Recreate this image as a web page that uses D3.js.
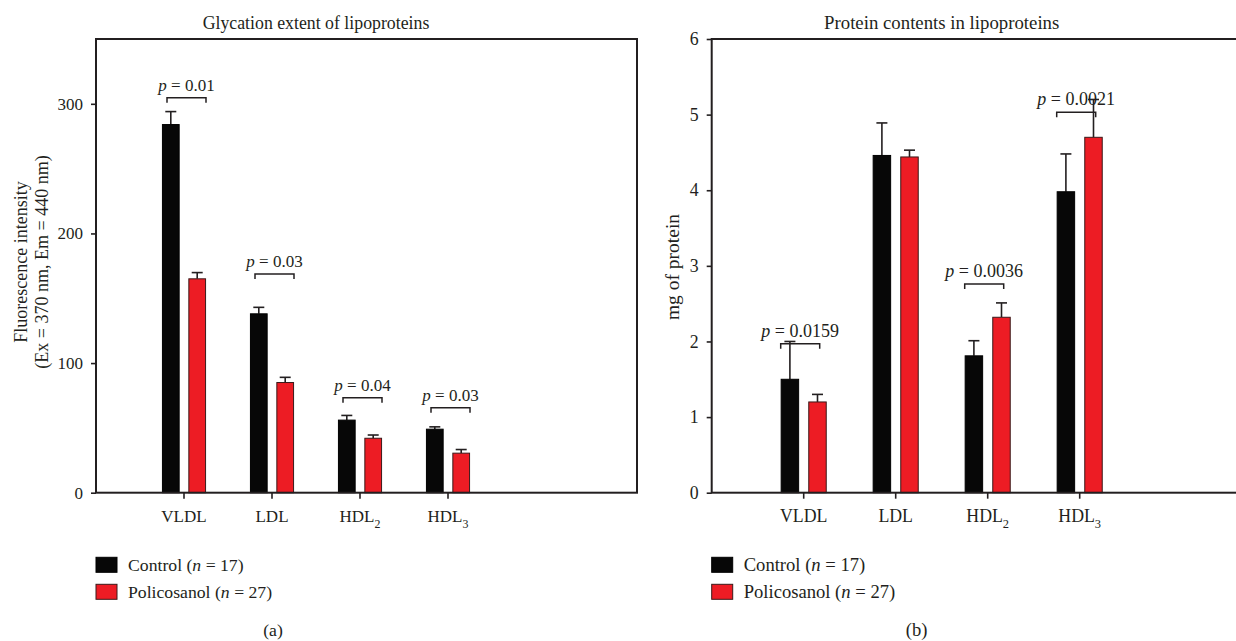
<!DOCTYPE html>
<html><head><meta charset="utf-8">
<script src="https://cdn.jsdelivr.net/npm/d3@7"></script>
<style>
body{margin:0;background:#fff}
svg{display:block}
svg text, svg tspan{font-family:"Liberation Serif","Times New Roman",serif !important}
text{fill:#231f20}
</style>
</head><body>
<script>
// ---------- data ----------
const categories = ["VLDL", "LDL", "HDL2", "HDL3"];
const categoryBase = ["VLDL", "LDL", "HDL", "HDL"];
const categorySub = ["", "", "2", "3"];
const seriesNames = ["Control", "Policosanol"];
const seriesN = [17, 27];

const glycTitle = "Glycation extent of lipoproteins";
const glycYLabel = ["Fluorescence intensity", "(Ex = 370 nm, Em = 440 nm)"];
const glycTicks = [0, 100, 200, 300];
const glycControl = [284, 138, 56, 49];
const glycControlErr = [10, 5, 3.6, 1.8];
const glycPolicosanol = [165, 85, 42, 30.5];
const glycPolicosanolErr = [4.8, 4, 2.5, 2.8];
const glycPCats = ["VLDL", "LDL", "HDL2", "HDL3"];
const glycPHeights = [304.6, 168.7, 73.3, 65.6];
const glycPValues = ["0.01", "0.03", "0.04", "0.03"];

const protTitle = "Protein contents in lipoproteins";
const protYLabel = ["mg of protein"];
const protTicks = [0, 1, 2, 3, 4, 5, 6];
const protControl = [1.50, 4.46, 1.81, 3.98];
const protControlErr = [0.50, 0.43, 0.20, 0.50];
const protPolicosanol = [1.20, 4.44, 2.32, 4.70];
const protPolicosanolErr = [0.10, 0.09, 0.19, 0.50];
const protPCats = ["VLDL", "HDL2", "HDL3"];
const protPHeights = [1.97, 2.76, 5.03];
const protPValues = ["0.0159", "0.0036", "0.0021"];

// ---------- drawing ----------
const W = 1236, H = 641;
const INK = "#231f20", RED = "#ed1c24", BLACK = "#070707";
const FONT = '"Liberation Serif","Times New Roman",serif';
const svg = d3.select("body").append("svg").attr("width", W).attr("height", H)
  .attr("font-family", FONT);

function txt(sel) { return sel.append("text").attr("font-family", FONT).attr("fill", INK); }

function drawPanel(o) {
  const g = svg.append("g");
  const y = d3.scaleLinear().domain(o.yDomain).range([o.bottom, o.top]);
  const x = d3.scaleBand().domain(categories)
    .range([o.left + o.step / 2, o.left + o.step / 2 + o.step * categories.length]).padding(0);
  const cx = c => x(c) + x.bandwidth() / 2;
  const barW = o.step * 0.19, off = o.step * 0.15, cap = 5.5;

  // title
  const mid = (cx(categories[0]) + cx(categories[categories.length - 1])) / 2;
  txt(g).attr("x", mid).attr("y", o.titleY).attr("text-anchor", "middle")
    .attr("font-size", o.titleFs).text(o.title);

  // bars + error bars
  const series = [
    { vals: o.control, err: o.controlErr, fill: BLACK, stroke: "#000", shift: -off },
    { vals: o.polic, err: o.policErr, fill: RED, stroke: "#3a1a1a", shift: off }
  ];
  series.forEach(s => {
    const d = categories.map((c, i) => ({ c, v: s.vals[i], e: s.err[i] }));
    const eg = g.append("g").attr("stroke", INK).attr("stroke-width", 1.6);
    eg.selectAll("line.v").data(d).join("line")
      .attr("x1", q => cx(q.c) + s.shift).attr("x2", q => cx(q.c) + s.shift)
      .attr("y1", q => y(q.v)).attr("y2", q => y(q.v + q.e));
    eg.selectAll("line.h").data(d).join("line")
      .attr("x1", q => cx(q.c) + s.shift - cap).attr("x2", q => cx(q.c) + s.shift + cap)
      .attr("y1", q => y(q.v + q.e)).attr("y2", q => y(q.v + q.e));
    g.append("g").selectAll("rect").data(d).join("rect")
      .attr("x", q => cx(q.c) + s.shift - barW / 2).attr("width", barW)
      .attr("y", q => y(q.v)).attr("height", q => y(0) - y(q.v))
      .attr("fill", s.fill).attr("stroke", s.stroke).attr("stroke-width", 1);
  });

  // frame
  g.append("rect").attr("x", o.left).attr("y", o.top).attr("width", o.width)
    .attr("height", o.bottom - o.top).attr("fill", "none").attr("stroke", INK).attr("stroke-width", 2);

  // y axis
  const ya = g.append("g").attr("transform", `translate(${o.left},0)`)
    .call(d3.axisLeft(y).tickValues(o.ticks).tickFormat(d3.format("d"))
      .tickSize(5).tickPadding(8).tickSizeOuter(0));
  ya.attr("font-family", FONT).attr("font-size", o.tickFs);
  ya.select(".domain").remove();
  ya.selectAll("line").attr("stroke", INK).attr("stroke-width", 1.6);
  ya.selectAll("text").attr("fill", INK);

  // x axis
  const xa = g.append("g").attr("transform", `translate(0,${o.bottom})`)
    .call(d3.axisBottom(x).tickSize(6).tickFormat("").tickSizeOuter(0));
  xa.select(".domain").remove();
  xa.selectAll("line").attr("stroke", INK).attr("stroke-width", 1.6);
  categories.forEach((c, i) => {
    const t = txt(g).attr("x", cx(c)).attr("y", o.bottom + 29.5)
      .attr("text-anchor", "middle").attr("font-size", o.tickFs);
    t.append("tspan").text(categoryBase[i]);
    if (categorySub[i]) t.append("tspan").attr("dy", 6).attr("font-size", o.tickFs * 0.7).text(categorySub[i]);
  });

  // y label
  const yl = txt(g).attr("transform", `translate(${o.yLabelX},${o.yLabelY}) rotate(-90)`)
    .attr("text-anchor", "middle").attr("font-size", o.yLabelFs);
  o.yLabel.forEach((line, i) => yl.append("tspan").attr("x", 0).attr("dy", i === 0 ? 0 : o.yLabelLH).text(line));

  // significance brackets
  o.pCats.forEach((c, i) => {
    const bc = cx(c) + o.bracketShift, by = y(o.pHeights[i]), hw = 19.5;
    g.append("path").attr("d", `M${bc - hw},${by + 5}V${by}H${bc + hw}V${by + 5}`)
      .attr("fill", "none").attr("stroke", INK).attr("stroke-width", 1.5);
    const t = txt(g).attr("x", bc).attr("y", by - 7).attr("text-anchor", "middle")
      .attr("font-size", o.pFs);
    t.append("tspan").attr("font-style", "italic").text("p");
    t.append("tspan").text(" = " + o.pValues[i]);
  });

  // legend
  seriesNames.forEach((nm, i) => {
    const ly = o.legendY + i * 27;
    g.append("rect").attr("x", o.left).attr("y", ly).attr("width", 21).attr("height", 15)
      .attr("fill", i === 0 ? BLACK : RED).attr("stroke", i === 0 ? "#000" : "#3a1a1a").attr("stroke-width", 1);
    const t = txt(g).attr("x", o.left + 32).attr("y", ly + 14).attr("font-size", o.legendFs);
    t.append("tspan").text(nm + " (");
    t.append("tspan").attr("font-style", "italic").text("n");
    t.append("tspan").text(" = " + seriesN[i] + ")");
  });

  // panel caption
  txt(g).attr("x", o.left + o.captionDX).attr("y", 636).attr("text-anchor", "middle")
    .attr("font-size", o.legendFs).text(o.caption);
}

drawPanel({
  left: 96, top: 39, bottom: 492.7, width: 541, step: 88,
  yDomain: [0, 350], ticks: glycTicks,
  control: glycControl, controlErr: glycControlErr,
  polic: glycPolicosanol, policErr: glycPolicosanolErr,
  pCats: glycPCats, pHeights: glycPHeights, pValues: glycPValues, bracketShift: 2.5,
  title: glycTitle, titleY: 29, titleFs: 17.8,
  yLabel: glycYLabel, yLabelX: 27, yLabelY: 262, yLabelFs: 18, yLabelLH: 21,
  tickFs: 17, pFs: 17, legendFs: 17.7, legendY: 557.3,
  caption: "(a)", captionDX: 177
});

drawPanel({
  left: 711.7, top: 39, bottom: 492.7, width: 541, step: 92,
  yDomain: [0, 6], ticks: protTicks,
  control: protControl, controlErr: protControlErr,
  polic: protPolicosanol, policErr: protPolicosanolErr,
  pCats: protPCats, pHeights: protPHeights, pValues: protPValues, bracketShift: -3.5,
  title: protTitle, titleY: 28.5, titleFs: 18.8,
  yLabel: protYLabel, yLabelX: 679, yLabelY: 267, yLabelFs: 19.5, yLabelLH: 21,
  tickFs: 17.8, pFs: 18, legendFs: 18.6, legendY: 557.3,
  caption: "(b)", captionDX: 205
});
</script>
</body></html>
